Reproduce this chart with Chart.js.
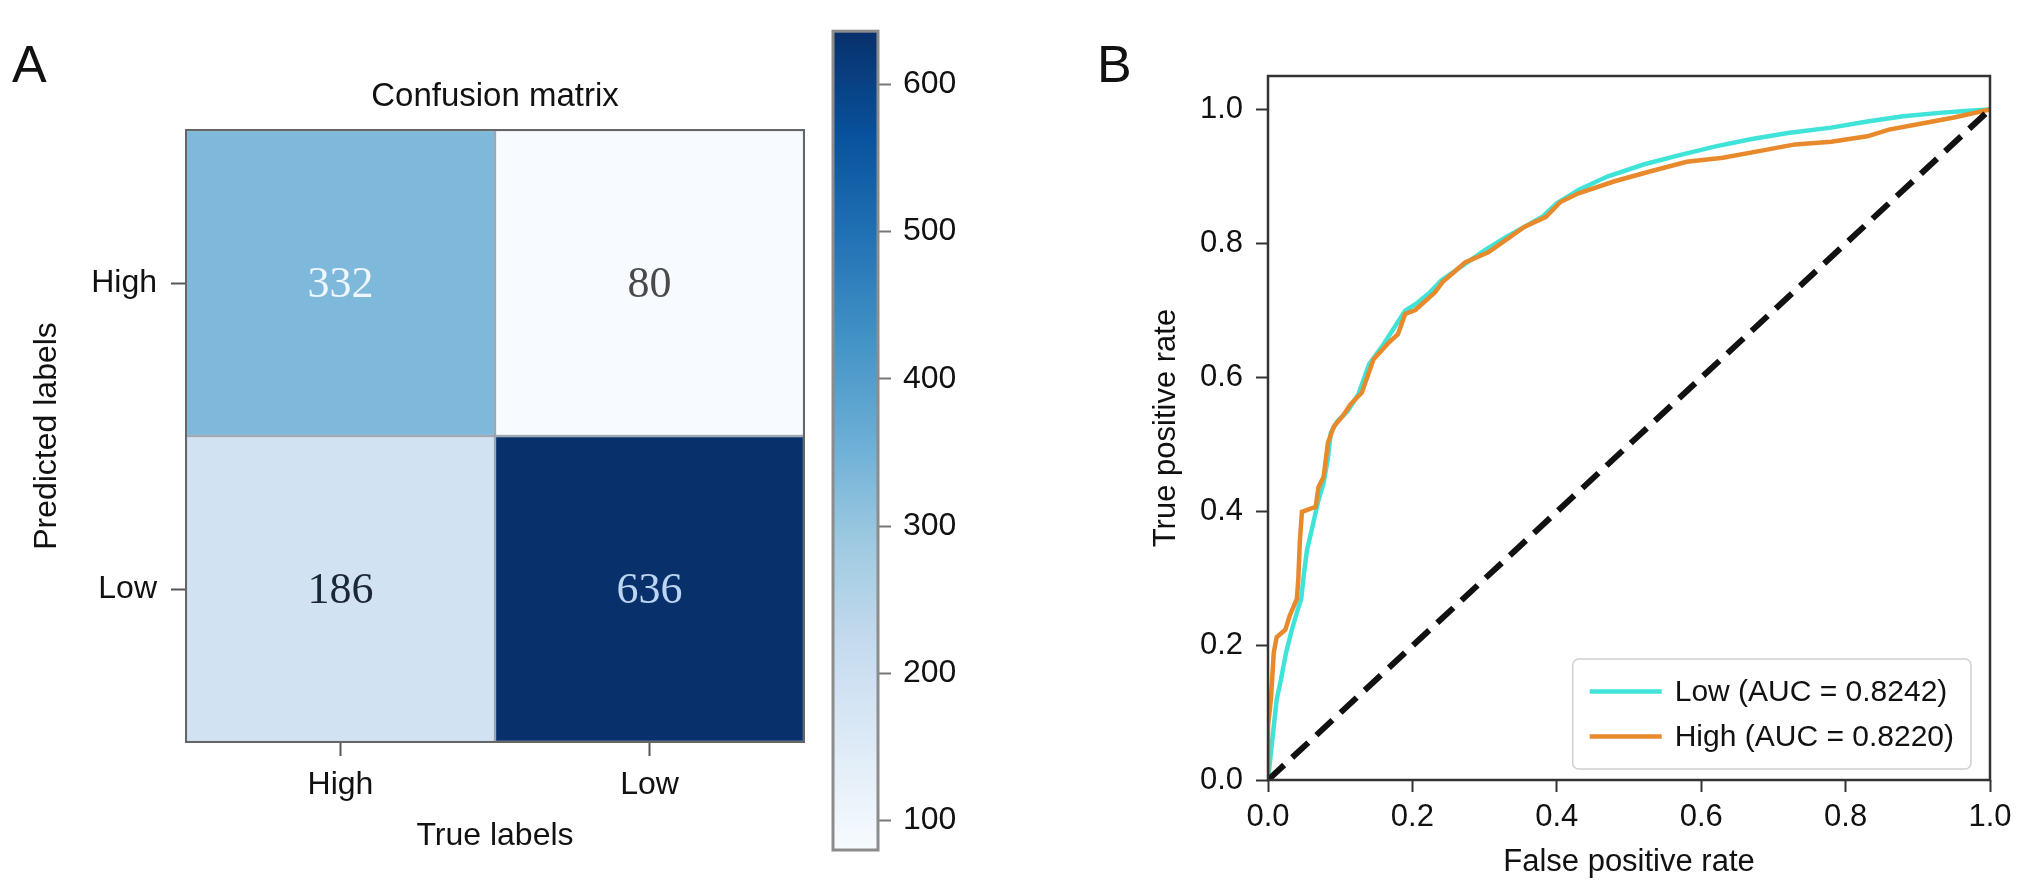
<!DOCTYPE html>
<html>
<head>
<meta charset="utf-8">
<script src="https://cdn.jsdelivr.net/npm/chart.js@4.4.1/dist/chart.umd.min.js"></script>
<style>
  body { margin: 0; background: #fff; }
  #page { position: relative; width: 2032px; height: 891px; overflow: hidden; font-family: 'Liberation Sans', Arial, sans-serif; }
  canvas { position: absolute; top: 0; }
  .panel { position: absolute; font-size: 52px; line-height: 52px; color: #111; }
</style>
</head>
<body>
<div id="page">
  <div class="panel" style="left:12px; top:38px;">A</div>
  <div class="panel" style="left:1097px; top:38px;">B</div>
  <canvas id="matrix" width="820" height="891" style="left:0"></canvas>
  <canvas id="colorbar" width="220" height="891" style="left:820px"></canvas>
  <canvas id="roc" width="992" height="891" style="left:1040px"></canvas>
</div>
<script>
// confusion matrix, rows = predicted label, columns = true label
const trueLabels = ['High', 'Low'];
const predictedLabels = ['High', 'Low'];
const predictedHighCounts = [332, 80];
const predictedLowCounts = [186, 636];
const colorbarTicks = [100, 200, 300, 400, 500, 600];

// ROC curves
const rocTicks = [0, 0.2, 0.4, 0.6, 0.8, 1.0];
const lowFpr = [0, 0.004, 0.008, 0.012, 0.018, 0.025, 0.032, 0.040, 0.046, 0.050,
  0.054, 0.062, 0.070, 0.077, 0.083, 0.087, 0.096, 0.110, 0.125, 0.140,
  0.160, 0.175, 0.190, 0.205, 0.225, 0.240, 0.260, 0.280, 0.300, 0.330,
  0.355, 0.380, 0.400, 0.430, 0.470, 0.520, 0.570, 0.620, 0.670, 0.720,
  0.780, 0.830, 0.880, 0.930, 0.970, 1.0];
const lowTpr = [0, 0.040, 0.080, 0.120, 0.150, 0.190, 0.220, 0.250, 0.270, 0.310,
  0.343, 0.380, 0.418, 0.443, 0.480, 0.518, 0.535, 0.550, 0.575, 0.620,
  0.650, 0.675, 0.700, 0.710, 0.728, 0.745, 0.760, 0.775, 0.790, 0.810,
  0.825, 0.840, 0.860, 0.880, 0.900, 0.918, 0.932, 0.945, 0.956, 0.965,
  0.973, 0.982, 0.990, 0.995, 0.998, 1.0];
const highFpr = [0, 0, 0.004, 0.008, 0.012, 0.024, 0.030, 0.040, 0.042, 0.044,
  0.047, 0.060, 0.066, 0.070, 0.077, 0.083, 0.091, 0.105, 0.114, 0.130,
  0.146, 0.167, 0.180, 0.190, 0.204, 0.231, 0.242, 0.257, 0.273, 0.305,
  0.330, 0.355, 0.385, 0.405, 0.430, 0.480, 0.530, 0.580, 0.630, 0.680,
  0.730, 0.780, 0.830, 0.860, 0.900, 0.950, 1.0];
const highTpr = [0, 0.080, 0.120, 0.190, 0.213, 0.224, 0.245, 0.270, 0.300, 0.354,
  0.400, 0.405, 0.407, 0.437, 0.452, 0.503, 0.527, 0.545, 0.560, 0.578,
  0.627, 0.652, 0.665, 0.695, 0.701, 0.727, 0.743, 0.757, 0.772, 0.787,
  0.806, 0.825, 0.840, 0.862, 0.875, 0.893, 0.908, 0.922, 0.928, 0.938,
  0.948, 0.952, 0.960, 0.970, 0.978, 0.988, 1.0];
const lowAuc = 0.8242;
const highAuc = 0.8220;

Chart.defaults.font.family = "'Liberation Sans', Arial, sans-serif";
Chart.defaults.color = '#111';
Chart.defaults.animation = false;

const countRows = [predictedHighCounts, predictedLowCounts];
const allCounts = countRows.flat();
const vmin = Math.min(...allCounts);
const vmax = Math.max(...allCounts);

// matplotlib "Blues"
const bluesStops = ['#f7fbff', '#deebf7', '#c6dbef', '#9ecae1', '#6baed6', '#4292c6', '#2171b5', '#08519c', '#08306b'];

function hexToRgb(h) {
  return [1, 3, 5].map(i => parseInt(h.slice(i, i + 2), 16));
}

function blues(t) {
  t = Math.max(0, Math.min(1, t));
  const pos = t * (bluesStops.length - 1);
  const i = Math.min(Math.floor(pos), bluesStops.length - 2);
  const f = pos - i;
  const a = hexToRgb(bluesStops[i]), b = hexToRgb(bluesStops[i + 1]);
  const c = a.map((v, k) => Math.round(v + (b[k] - v) * f));
  return `rgb(${c[0]},${c[1]},${c[2]})`;
}

function norm(v) {
  return (v - vmin) / (vmax - vmin);
}

function cellTextColor(v) {
  const t = norm(v);
  if (t > 0.8) return '#bcd5f0';
  if (t > 0.4) return '#eef6ff';
  if (t < 0.05) return '#4a4a4a';
  return '#1b2636';
}

// box around the plotting area (matplotlib spines)
const framePlugin = {
  id: 'frame',
  afterDatasetsDraw(chart, args, opts) {
    const {ctx, chartArea: a} = chart;
    ctx.save();
    ctx.strokeStyle = opts.color || '#333';
    ctx.lineWidth = opts.width || 2;
    ctx.strokeRect(a.left, a.top, a.right - a.left, a.bottom - a.top);
    ctx.restore();
  }
};

// count written in each cell
const cellLabels = {
  id: 'cellLabels',
  afterDatasetsDraw(chart) {
    const ctx = chart.ctx;
    ctx.save();
    ctx.font = "44px 'Liberation Serif', 'DejaVu Serif', serif";
    ctx.textAlign = 'center';
    ctx.textBaseline = 'middle';
    chart.data.datasets.forEach((ds, i) => {
      chart.getDatasetMeta(i).data.forEach((bar, j) => {
        const v = ds.counts[j];
        ctx.fillStyle = cellTextColor(v);
        ctx.fillText(String(v), bar.x, (bar.y + bar.base) / 2 + 2);
      });
    });
    ctx.restore();
  }
};

// legend box in the lower right corner
const rocLegend = {
  id: 'rocLegend',
  afterDraw(chart, args, o) {
    const items = chart.data.datasets.filter(ds => !ds.hideInLegend);
    const {ctx, chartArea: a} = chart;
    ctx.save();
    ctx.font = o.fontSize + "px 'Liberation Sans', Arial, sans-serif";
    const textW = Math.max(...items.map(ds => ctx.measureText(ds.label).width));
    const w = o.padX + o.lineLen + o.gap + textW + o.padX;
    const h = o.padY * 2 + o.rowH * items.length;
    const x0 = a.right - o.marginRight - w;
    const y0 = a.bottom - o.marginBottom - h;
    ctx.fillStyle = 'rgba(255,255,255,0.85)';
    ctx.strokeStyle = '#d0d0d0';
    ctx.lineWidth = 1.5;
    ctx.beginPath();
    if (ctx.roundRect) ctx.roundRect(x0, y0, w, h, 6); else ctx.rect(x0, y0, w, h);
    ctx.fill();
    ctx.stroke();
    items.forEach((ds, i) => {
      const cy = y0 + o.padY + o.rowH * (i + 0.5);
      ctx.strokeStyle = ds.borderColor;
      ctx.lineWidth = ds.borderWidth;
      ctx.beginPath();
      ctx.moveTo(x0 + o.padX, cy);
      ctx.lineTo(x0 + o.padX + o.lineLen, cy);
      ctx.stroke();
      ctx.fillStyle = '#111';
      ctx.textBaseline = 'middle';
      ctx.fillText(ds.label, x0 + o.padX + o.lineLen + o.gap, cy + 1);
    });
    ctx.restore();
  }
};

// ---------- panel A: confusion matrix ----------
const matrixDatasets = predictedLabels.map((p, i) => ({
  label: p,
  counts: countRows[i],
  data: trueLabels.map(() => 1),
  backgroundColor: countRows[i].map(v => blues(norm(v))),
  borderColor: 'rgba(50,70,95,0.45)',
  borderWidth: 1.5,
  borderSkipped: false,
  barPercentage: 1,
  categoryPercentage: 1,
  xAxisID: 'x',
  yAxisID: 'y'
})).reverse();

new Chart(document.getElementById('matrix'), {
  type: 'bar',
  data: { labels: trueLabels, datasets: matrixDatasets },
  options: {
    responsive: false,
    devicePixelRatio: 1,
    events: [],
    layout: { padding: { left: 0, top: 0, right: 16, bottom: 0 } },
    plugins: { legend: { display: false }, tooltip: { enabled: false }, frame: { color: '#666', width: 2 } },
    scales: {
      x: {
        stacked: true,
        grid: { offset: false, drawOnChartArea: false, tickLength: 14, tickColor: '#555', tickWidth: 2 },
        border: { display: false },
        ticks: { font: { size: 32 }, padding: 10 },
        title: { display: true, text: 'True labels', font: { size: 32 }, padding: { top: 0, bottom: 36 } },
        afterFit: s => { s.height = 149; }
      },
      xTop: {
        type: 'category',
        position: 'top',
        grid: { display: false },
        border: { display: false },
        ticks: { display: false },
        title: { display: true, text: 'Confusion matrix', font: { size: 33 }, padding: { top: 77, bottom: 0 } },
        afterFit: s => { s.height = 130; }
      },
      y: {
        stacked: true,
        min: 0,
        max: predictedLabels.length,
        afterBuildTicks: s => { s.ticks = predictedLabels.map((_, i) => ({ value: i + 0.5 })); },
        ticks: {
          callback: v => predictedLabels[predictedLabels.length - 1 - Math.floor(v)],
          font: { size: 32 },
          padding: 14
        },
        grid: { drawOnChartArea: false, tickLength: 15, tickColor: '#555', tickWidth: 2 },
        border: { display: false },
        title: { display: true, text: 'Predicted labels', font: { size: 32 }, padding: { top: 28, bottom: 0 } },
        afterFit: s => { s.width = 186; }
      }
    }
  },
  plugins: [framePlugin, cellLabels]
});

// ---------- colour bar ----------
new Chart(document.getElementById('colorbar'), {
  type: 'bar',
  data: {
    labels: ['count'],
    datasets: [{
      data: [[vmin, vmax]],
      backgroundColor: ctx => {
        const chart = ctx.chart;
        if (!chart.chartArea) return blues(0.5);
        const y = chart.scales.y;
        const g = chart.ctx.createLinearGradient(0, y.getPixelForValue(vmin), 0, y.getPixelForValue(vmax));
        bluesStops.forEach((c, i) => g.addColorStop(i / (bluesStops.length - 1), c));
        return g;
      },
      borderWidth: 0,
      barPercentage: 1,
      categoryPercentage: 1
    }]
  },
  options: {
    responsive: false,
    devicePixelRatio: 1,
    events: [],
    layout: { padding: { left: 13, top: 15, right: 0, bottom: 41 } },
    plugins: { legend: { display: false }, tooltip: { enabled: false }, frame: { color: '#8c8c8c', width: 3 } },
    scales: {
      x: { display: false },
      y: {
        position: 'right',
        min: vmin,
        max: vmax,
        afterBuildTicks: s => { s.ticks = colorbarTicks.map(v => ({ value: v })); },
        ticks: { font: { size: 32 }, padding: 12 },
        grid: { drawOnChartArea: false, tickLength: 13, tickColor: '#777', tickWidth: 2 },
        border: { display: false },
        afterFit: s => { s.width = 162; }
      }
    }
  },
  plugins: [framePlugin]
});

// ---------- panel B: ROC ----------
new Chart(document.getElementById('roc'), {
  type: 'scatter',
  data: {
    datasets: [
      {
        label: 'Low (AUC = ' + lowAuc.toFixed(4) + ')',
        data: lowFpr.map((x, i) => ({ x: x, y: lowTpr[i] })),
        showLine: true, borderColor: '#3fe3d8', borderWidth: 4.5, pointRadius: 0, tension: 0, order: 2
      },
      {
        label: 'High (AUC = ' + highAuc.toFixed(4) + ')',
        data: highFpr.map((x, i) => ({ x: x, y: highTpr[i] })),
        showLine: true, borderColor: '#e8892c', borderWidth: 4.5, pointRadius: 0, tension: 0, order: 1
      },
      {
        label: 'chance',
        hideInLegend: true,
        data: [{ x: 0, y: 0 }, { x: 1, y: 1 }],
        showLine: true, borderColor: '#111', borderWidth: 6, borderDash: [22, 11], pointRadius: 0, order: 0
      }
    ]
  },
  options: {
    responsive: false,
    devicePixelRatio: 1,
    events: [],
    layout: { padding: { left: 0, top: 76, right: 42, bottom: 0 } },
    plugins: {
      legend: { display: false },
      tooltip: { enabled: false },
      frame: { color: '#333', width: 2.5 },
      rocLegend: { fontSize: 30, padX: 17, lineLen: 72, gap: 13, padY: 10, rowH: 45, marginRight: 19, marginBottom: 11 }
    },
    scales: {
      x: {
        type: 'linear',
        min: 0,
        max: 1,
        afterBuildTicks: s => { s.ticks = rocTicks.map(v => ({ value: v })); },
        ticks: { callback: v => v.toFixed(1), font: { size: 31 }, padding: 7 },
        grid: { drawOnChartArea: false, tickLength: 12, tickColor: '#333', tickWidth: 2 },
        border: { display: false },
        title: { display: true, text: 'False positive rate', font: { size: 31 }, padding: { top: 0, bottom: 10 } },
        afterFit: s => { s.height = 111; }
      },
      y: {
        min: 0,
        max: 1.05,
        afterBuildTicks: s => { s.ticks = rocTicks.map(v => ({ value: v })); },
        ticks: { callback: v => v.toFixed(1), font: { size: 31 }, padding: 13 },
        grid: { drawOnChartArea: false, tickLength: 12, tickColor: '#333', tickWidth: 2 },
        border: { display: false },
        title: { display: true, text: 'True positive rate', font: { size: 31 }, padding: { top: 108, bottom: 0 } },
        afterFit: s => { s.width = 228; }
      }
    }
  },
  plugins: [framePlugin, rocLegend]
});
</script>
</body>
</html>
